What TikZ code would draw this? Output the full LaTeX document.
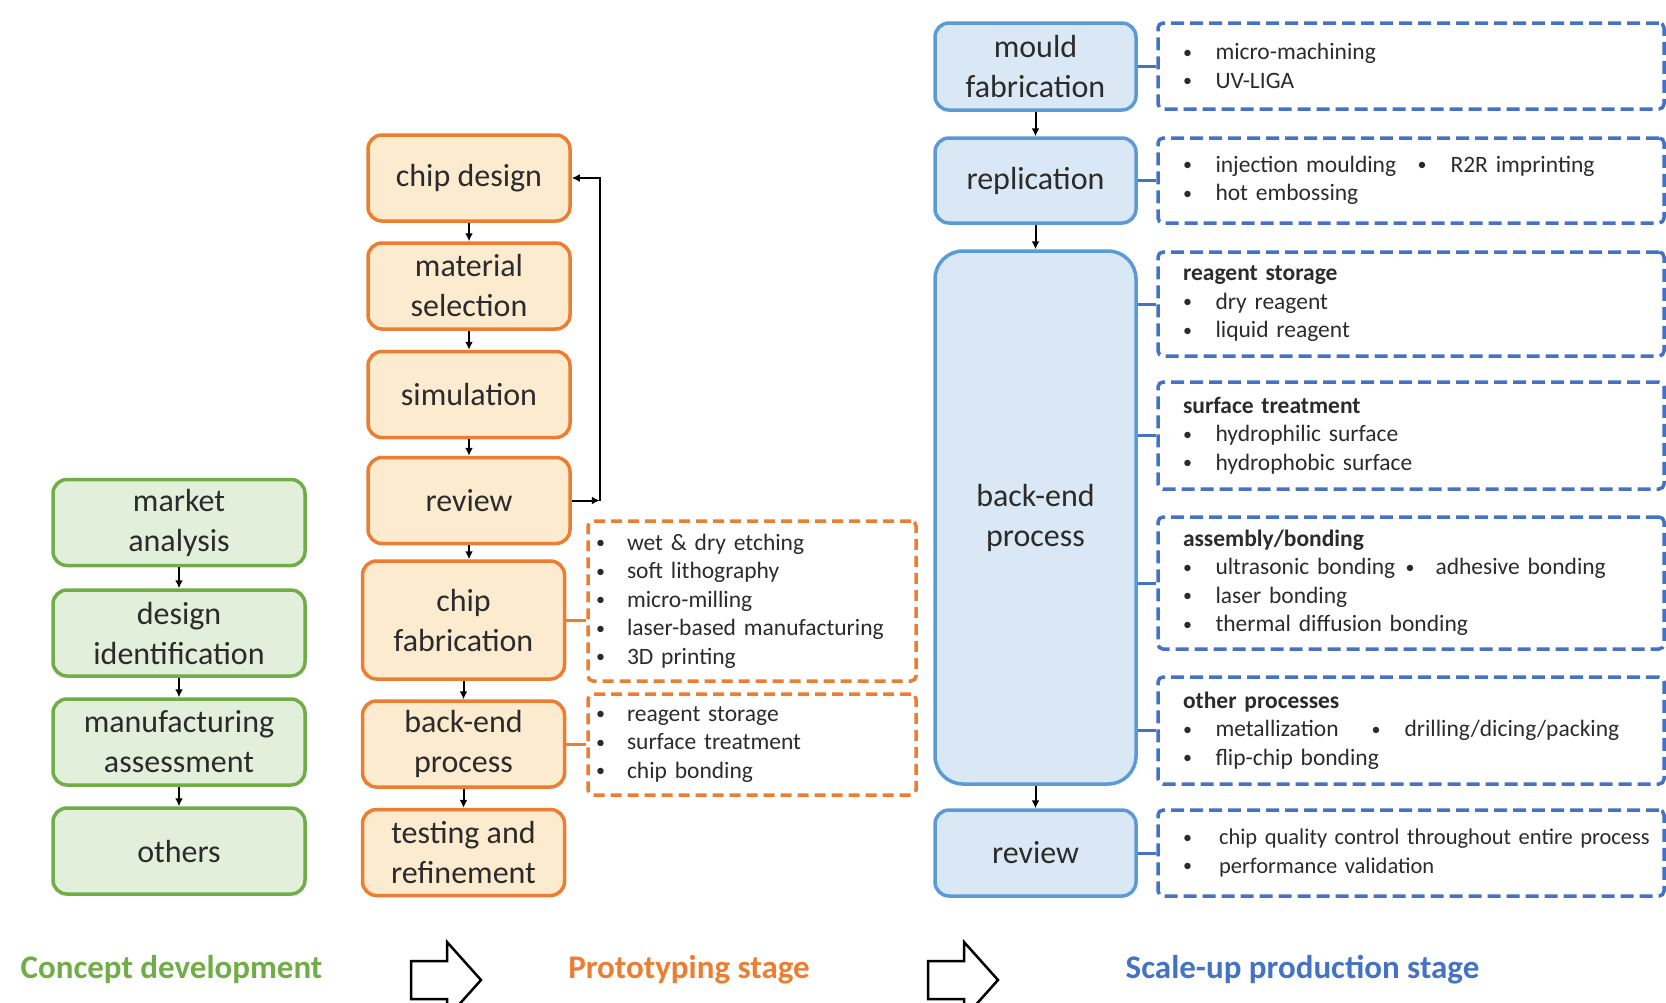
\documentclass[tikz,border=0pt]{standalone}
\usepackage{fontspec}
\setmainfont{Carlito}
\usetikzlibrary{arrows.meta}
\definecolor{gline}{HTML}{70AD47}
\definecolor{gfill}{HTML}{E2EFDA}
\definecolor{oline}{HTML}{ED7D31}
\definecolor{ofill}{HTML}{FCEBCF}
\definecolor{bline}{HTML}{5B9BD5}
\definecolor{bfill}{HTML}{DAE8F5}
\definecolor{bdash}{HTML}{4472C4}
\definecolor{txt}{HTML}{2B2B2B}
\newcommand{\bulit}[1][31pt]{\makebox[#1][l]{\raisebox{1.5pt}{\fontsize{18}{18}\selectfont\textbullet}}}
\begin{document}
\begin{tikzpicture}[x=1pt,y=-1pt,
  box/.style={draw, line width=3.5pt, rounded corners=14pt, align=center, inner sep=2pt,
    font=\fontsize{32}{40}\selectfont, text=txt},
  gbox/.style={box, draw=gline, fill=gfill, minimum width=252pt, minimum height=86pt},
  obox/.style={box, draw=oline, fill=ofill, minimum width=202pt, minimum height=86pt},
  bbox/.style={box, draw=bline, fill=bfill, minimum width=201pt, minimum height=86pt},
  flow/.style={-{Latex[length=8pt,width=8pt]}, line width=2pt, black},
  dbox/.style={line width=3.5pt, rounded corners=5pt, align=left, text=txt,
    font=\fontsize{23.5}{28.5}\selectfont, inner ysep=0pt},
  odash/.style={dbox, draw=oline, dash pattern=on 11pt off 6pt, inner xsep=8pt,
    minimum width=328pt, text width=312pt},
  bdashbox/.style={dbox, draw=bdash, dash pattern=on 13pt off 6pt, inner xsep=25pt,
    minimum width=506pt, text width=456pt},
  oconn/.style={draw=oline, line width=3pt},
  bconn/.style={draw=bdash, line width=3pt},
  stage/.style={font=\fontsize{33}{38}\selectfont\bfseries},
  hollow/.style={draw=black, line width=2.5pt, line join=miter}
]
\useasboundingbox (0,0) rectangle (1666,1002);
\clip (0,0) rectangle (1666,1002);

% ---------------- concept development (green)
\node[gbox] (g1) at (179,522.5) {market\\analysis};
\node[gbox] (g2) at (179,633) {design\\identification};
\node[gbox] (g3) at (179,742) {manufacturing\\assessment};
\node[gbox] (g4) at (179,851) {others};
\draw[flow] (g1) -- (g2);
\draw[flow] (g2) -- (g3);
\draw[flow] (g3) -- (g4);

% ---------------- prototyping (orange)
\node[obox] (o1) at (469,178) {chip design};
\node[obox] (o2) at (469,286) {material\\selection};
\node[obox] (o3) at (469,394.5) {simulation};
\node[obox] (o4) at (469,500.5) {review};
\node[obox, minimum height=118pt] (o5) at (463.5,620) {chip\\fabrication};
\node[obox] (o6) at (463.5,744) {back-end\\process};
\node[obox] (o7) at (463.5,852.5) {testing and\\refinement};
\draw[flow] (o1) -- (o2);
\draw[flow] (o2) -- (o3);
\draw[flow] (o3) -- (o4);
\draw[flow] (o4.south) -- (o4.south |- o5.north);
\draw[flow] (o5) -- (o6);
\draw[flow] (o6) -- (o7);
\coordinate (fb) at ([xshift=28pt]o4.east);
\draw[flow] (o4.east) -- (fb);
\draw[flow] (fb) |- (o1.east);

\node[odash, minimum height=160pt] (of) at (752,601)
  {\bulit wet \& dry etching\\\bulit soft lithography\\\bulit micro-milling\\\bulit laser-based manufacturing\\\bulit 3D printing};
\node[odash, minimum height=101pt] (ob) at (752,744.5)
  {\bulit reagent storage\\\bulit surface treatment\\\bulit chip bonding};
\draw[oconn] (o5.east) -- (o5.east -| of.west);
\draw[oconn] (o6.east) -- (o6.east -| ob.west);

% ---------------- scale-up production (blue)
\node[bbox, minimum height=87pt] (b1) at (1035.5,66.5) {mould\\fabrication};
\node[bbox, minimum height=85pt] (b2) at (1035.5,180.5) {replication};
\node[bbox, minimum height=533pt, rounded corners=28pt] (b3) at (1035.5,517.5) {back-end\\process};
\node[bbox] (b4) at (1035.5,853) {review};
\draw[flow] (b1) -- (b2);
\draw[flow] (b2) -- (b3);
\draw[flow] (b3) -- (b4);

\node[bdashbox, minimum height=86pt] (d1) at (1411,66)
  {\bulit[32.5pt]micro-machining\\\bulit[32.5pt]UV-LIGA};
\node[bdashbox, minimum height=85pt] (d2) at (1411,180.5)
  {\bulit[32.5pt]\makebox[202pt][l]{injection moulding}\bulit[33pt]R2R imprinting\\\bulit[32.5pt]hot embossing};
\node[bdashbox, minimum height=104pt] (d3) at (1411,304)
  {\textbf{reagent storage}\\\bulit[32.5pt]dry reagent\\\bulit[32.5pt]liquid reagent};
\node[bdashbox, minimum height=107pt] (d4) at (1411,435.5)
  {\textbf{surface treatment}\\\bulit[32.5pt]hydrophilic surface\\\bulit[32.5pt]hydrophobic surface};
\node[bdashbox, minimum height=132pt] (d5) at (1411,583)
  {\textbf{assembly/bonding}\\\bulit[32.5pt]\makebox[190pt][l]{ultrasonic bonding}\bulit[30pt]adhesive bonding\\\bulit[32.5pt]laser bonding\\\bulit[32.5pt]thermal diffusion bonding};
\node[bdashbox, minimum height=86pt, font=\fontsize{22.5}{28.5}\selectfont] (d7) at (1411,853)
  {\mbox{\bulit[36pt]chip quality control throughout entire process}\\\mbox{\bulit[36pt]performance validation}};
\node[bdashbox, minimum height=107pt] (d6) at (1411,730.5)
  {\textbf{other processes}\\\bulit[32.5pt]\makebox[156pt][l]{metallization}\bulit[33pt]drilling/dicing/packing\\\bulit[32.5pt]flip-chip bonding};

\draw[bconn] (b1.east) -- (b1.east -| d1.west);
\draw[bconn] (b2.east) -- (b2.east -| d2.west);
\draw[bconn] (d3.west -| b3.east) -- (d3.west);
\draw[bconn] (d4.west -| b3.east) -- (d4.west);
\draw[bconn] (d5.west -| b3.east) -- (d5.west);
\draw[bconn] (d6.west -| b3.east) -- (d6.west);
\draw[bconn] (b4.east) -- (b4.east -| d7.west);

% ---------------- stage labels
\node[stage, text=gline] (s1) at (171.5,970) {Concept development};
\node[stage, text=oline] (s2) at (689,970) {Prototyping stage};
\node[stage, text=bdash] (s3) at (1302.5,970) {Scale-up production stage};

\draw[hollow] (411,961) -- (447,961) -- (447,942) -- (481,980) -- (447,1018) -- (447,999) -- (411,999) -- cycle;
\draw[hollow] (928,961) -- (964,961) -- (964,942) -- (998,980) -- (964,1018) -- (964,999) -- (928,999) -- cycle;
\end{tikzpicture}
\end{document}
